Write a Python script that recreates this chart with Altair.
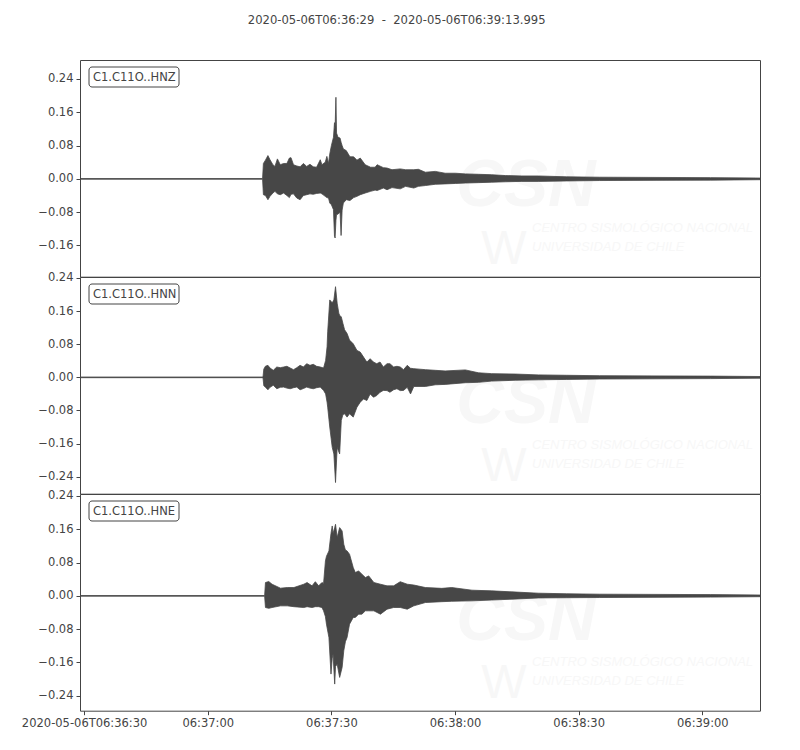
import altair as alt
import pandas as pd

TITLE = "2020-05-06T06:36:29\u00a0\u00a0-\u00a0\u00a02020-05-06T06:39:13.995"
CHANNELS = ["C1.C11O..HNZ", "C1.C11O..HNN", "C1.C11O..HNE"]

# x in seconds after 2020-05-06T06:36:29
X_END = 164.995
TICK_SECONDS = [1, 31, 61, 91, 121, 151]
TICK_LABELS = ["2020-05-06T06:36:30", "06:37:00", "06:37:30", "06:38:00", "06:38:30", "06:39:00"]

# envelope of each trace (max / min amplitude)
HNZ_T = [0, 44.3, 44.5, 45.0, 45.6, 46.1, 46.8, 47.3, 47.9, 48.6,
         49.4, 50.2, 50.8, 51.2, 51.8, 52.6, 53.4, 54.2, 55.0, 55.8,
         56.6, 57.4, 58.3, 58.7, 59.5, 59.9, 60.3, 60.6, 61.0, 61.5,
         61.75, 61.9, 62.1, 62.25, 62.6, 63.1, 63.35, 63.6, 63.9, 64.6,
         65.5, 66.4, 67.2, 68.0, 69.2, 70.5, 71.6, 72.1, 73.6, 74.5,
         75.7, 77.7, 79.0, 81.0, 82.1, 83.8, 86.2, 88.6, 91.1, 93.5,
         96.7, 99.9, 103.2, 107.2, 111.2, 118, 126, 140, 153, 164.995]
HNZ_MAX = [.0008, .0008, .037, .045, .056, .046, .034, .030, .048, .034,
           .037, .037, .050, .051, .034, .031, .029, .037, .030, .035,
           .029, .028, .046, .034, .040, .054, .037, .060, .080, .100,
           .135, .125, .196, .110, .100, .098, .088, .080, .072, .068,
           .053, .053, .045, .050, .034, .028, .028, .034, .027, .026,
           .022, .024, .022, .022, .023, .016, .018, .0136, .0136, .012,
           .011, .010, .008, .007, .007, .005, .004, .0035, .003, .002]
HNZ_MIN = [-.0008, -.0008, -.038, -.040, -.050, -.042, -.034, -.030, -.036, -.038,
           -.034, -.040, -.045, -.037, -.036, -.046, -.050, -.040, -.038, -.036,
           -.037, -.035, -.034, -.036, -.042, -.045, -.046, -.058, -.062, -.074,
           -.138, -.142, -.100, -.085, -.085, -.080, -.136, -.075, -.058, -.050,
           -.052, -.045, -.042, -.038, -.034, -.030, -.027, -.028, -.022, -.026,
           -.021, -.024, -.018, -.022, -.018, -.016, -.013, -.012, -.011, -.010,
           -.009, -.008, -.007, -.006, -.006, -.005, -.004, -.0035, -.003, -.002]

HNN_T = [0, 44.4, 44.6, 45.0, 45.6, 46.1, 46.9, 47.75, 48.6, 49.4,
         50.2, 51.0, 51.8, 52.6, 53.4, 54.2, 55.0, 55.8, 56.6, 57.4,
         58.3, 59.1, 59.6, 59.95, 60.1, 60.6, 61.2, 61.6, 62.0, 62.4,
         62.8, 63.0, 63.4, 63.8, 64.2, 64.8, 65.4, 66.3, 67.2, 68.0,
         68.8, 69.6, 70.4, 71.2, 72.0, 72.8, 73.6, 74.5, 75.2, 76.1,
         76.9, 77.7, 78.5, 79.4, 80.2, 81.0, 83.8, 86.2, 88.6, 93.5,
         96.7, 99.9, 105.6, 111.2, 118, 126, 140, 153, 164.995]
HNN_MAX = [.0008, .0008, .020, .027, .029, .0226, .017, .025, .0234, .025,
           .0267, .0226, .0186, .0234, .029, .025, .033, .029, .0315, .0267,
           .025, .0226, .041, .074, .110, .187, .180, .187, .219, .179,
           .155, .150, .146, .130, .115, .106, .090, .081, .065, .061,
           .049, .037, .045, .037, .033, .037, .025, .033, .033, .025,
           .0267, .025, .0186, .029, .022, .021, .0186, .017, .0155, .018,
           .011, .009, .008, .006, .005, .004, .0035, .003, .002]
HNN_MIN = [-.0008, -.0008, -.020, -.024, -.030, -.024, -.019, -.0275, -.024, -.0235,
           -.026, -.0275, -.025, -.0235, -.030, -.027, -.0235, -.026, -.0275, -.025,
           -.0235, -.0315, -.040, -.060, -.072, -.120, -.169, -.185, -.254, -.169,
           -.180, -.185, -.104, -.090, -.088, -.096, -.088, -.096, -.072, -.060,
           -.052, -.056, -.040, -.048, -.044, -.036, -.0315, -.032, -.036, -.030,
           -.0275, -.032, -.0315, -.024, -.040, -.022, -.022, -.018, -.017, -.013,
           -.012, -.009, -.007, -.006, -.005, -.004, -.0035, -.003, -.002]

HNE_T = [0, 44.8, 45.0, 45.8, 46.6, 48.65, 50.3, 51.9, 54.3, 55.1,
         56.3, 57.1, 57.9, 58.7, 59.1, 59.55, 59.8, 60.4, 60.9, 61.2,
         61.4, 61.8, 62.0, 62.4, 63.0, 63.6, 64.0, 64.4, 64.8, 65.4,
         66.3, 66.8, 67.6, 68.4, 69.25, 70.05, 71.3, 72.9, 74.5, 76.1,
         77.7, 79.4, 81.0, 83.8, 87.8, 90.2, 95.1, 99.9, 104.8, 111.2,
         118, 126, 140, 153, 164.995]
HNE_MAX = [.0008, .0008, .032, .0344, .028, .0184, .020, .020, .028, .032,
           .024, .034, .024, .032, .030, .084, .095, .108, .150, .168,
           .150, .164, .172, .140, .164, .156, .124, .110, .108, .100,
           .068, .056, .060, .052, .044, .048, .032, .028, .024, .024,
           .034, .028, .026, .020, .018, .020, .0136, .012, .0096, .0064,
           .005, .004, .0035, .003, .002]
HNE_MIN = [-.0008, -.0008, -.028, -.030, -.028, -.024, -.024, -.026, -.028, -.026,
           -.028, -.026, -.026, -.028, -.036, -.050, -.068, -.100, -.188, -.150,
           -.140, -.212, -.170, -.164, -.196, -.172, -.132, -.110, -.100, -.068,
           -.052, -.052, -.044, -.044, -.036, -.036, -.036, -.044, -.032, -.028,
           -.028, -.032, -.024, -.016, -.014, -.013, -.012, -.010, -.008, -.005,
           -.0045, -.004, -.0035, -.003, -.002]

Y_DOMAINS = [[-0.235, 0.2856], [-0.281, 0.2424], [-0.276, 0.2448]]
Y_TICKS = [[-0.16, -0.08, 0.0, 0.08, 0.16, 0.24],
           [-0.24, -0.16, -0.08, 0.0, 0.08, 0.16, 0.24],
           [-0.24, -0.16, -0.08, 0.0, 0.08, 0.16, 0.24]]

TRACES = [(HNZ_T, HNZ_MAX, HNZ_MIN), (HNN_T, HNN_MAX, HNN_MIN), (HNE_T, HNE_MAX, HNE_MIN)]

TEXT = "#444444"
TRACE = "#474747"
WM = "#f7f7f7"
FONT = "DejaVu Sans"
W, H = 680, 216.7

label_expr = " : ".join(f"datum.value == {v} ? '{l}'" for v, l in zip(TICK_SECONDS, TICK_LABELS)) + " : ''"


def panel(i):
    t, mx, mn = TRACES[i]
    assert len(t) == len(mx) == len(mn)
    df = pd.DataFrame({"t": t, "max": mx, "min": mn})
    last = i == 2
    xaxis = alt.Axis(values=TICK_SECONDS, labelExpr=label_expr, title=None, grid=False, domain=False,
                     tickSize=4, tickColor=TEXT, labelColor=TEXT, labelFontSize=11.5, labelFont=FONT,
                     labelPadding=3, labelFlush=False) if last else None
    x = alt.X("t:Q", scale=alt.Scale(domain=[0, X_END], nice=False, zero=False), axis=xaxis)
    y = alt.Y("max:Q", scale=alt.Scale(domain=Y_DOMAINS[i], nice=False, zero=False),
              axis=alt.Axis(values=Y_TICKS[i], format=".2f", title=None, grid=False, domain=False,
                            tickSize=4, tickColor=TEXT, labelColor=TEXT, labelFontSize=11.5,
                            labelFont=FONT, labelPadding=3))
    one = pd.DataFrame({"a": [0]})
    wm_csn = alt.Chart(one).mark_text(text="CSN", font="Liberation Sans", fontSize=66, fontWeight="bold",
                                      fontStyle="italic", color=WM, align="center", baseline="alphabetic"
                                      ).encode(x=alt.value(446), y=alt.value(146))
    wm_w = alt.Chart(one).mark_text(text="W", font="Liberation Sans", fontSize=48, color=WM, align="center",
                                    baseline="alphabetic").encode(x=alt.value(424), y=alt.value(204))
    wm_1 = alt.Chart(one).mark_text(text="CENTRO SISMOLÓGICO NACIONAL", font="Liberation Sans", fontSize=13,
                                    fontStyle="italic", color=WM, align="left", baseline="alphabetic"
                                    ).encode(x=alt.value(452), y=alt.value(172))
    wm_2 = alt.Chart(one).mark_text(text="UNIVERSIDAD DE CHILE", font="Liberation Sans", fontSize=13,
                                    fontStyle="italic", color=WM, align="left", baseline="alphabetic"
                                    ).encode(x=alt.value(452), y=alt.value(191))
    area = alt.Chart(df).mark_area(color=TRACE, stroke=TRACE, strokeWidth=0.8, strokeJoin="round",
                                   interpolate="linear", clip=True).encode(x=x, y=y, y2="min:Q")
    box = alt.Chart(one).mark_rect(fill="white", stroke=TEXT, strokeWidth=1, cornerRadius=3).encode(
        x=alt.value(9), x2=alt.value(99), y=alt.value(7), y2=alt.value(27))
    lbl = alt.Chart(pd.DataFrame({"name": [CHANNELS[i]]})).mark_text(
        font=FONT, fontSize=11.5, color=TEXT, align="left", baseline="middle").encode(
        x=alt.value(13), y=alt.value(17.5), text="name:N")
    return alt.layer(wm_csn, wm_w, wm_1, wm_2, area, box, lbl).properties(width=W, height=H)


chart = alt.vconcat(panel(0), panel(1), panel(2), spacing=0, bounds="flush").properties(
    title=alt.TitleParams(TITLE, anchor="middle", fontSize=11.6, fontWeight="normal", font=FONT, color=TEXT,
                          offset=33, dx=6),
    padding={"left": 12, "top": 6, "right": 5, "bottom": 5},
    background="white",
).configure_view(stroke=TEXT, strokeWidth=1)

chart.save("out.html", embed_options={"renderer": "svg", "actions": False})
